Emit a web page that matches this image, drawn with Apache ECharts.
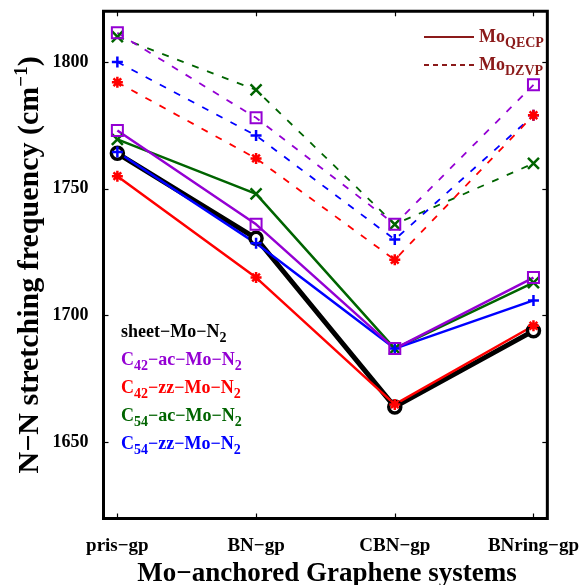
<!DOCTYPE html>
<html>
<head>
<meta charset="utf-8">
<script src="https://cdn.jsdelivr.net/npm/echarts@6/dist/echarts.min.js"></script>
<style>
html,body{margin:0;padding:0;background:#fff;}
#chart{width:582px;height:585px;}
</style>
</head>
<body>
<div id="chart"></div>
<script>
// ---- data ----
const categories = ['pris\u2212gp', 'BN\u2212gp', 'CBN\u2212gp', 'BNring\u2212gp'];
const xIndex = [0, 1, 2, 3];
const yTicks = [1650, 1700, 1750, 1800];

// Mo QECP (solid)
const sheetQECP = [1764, 1730.5, 1664, 1694];
const c42acQECP = [1773, 1736, 1687, 1715];
const c42zzQECP = [1755, 1715, 1665, 1696];
const c54acQECP = [1769.5, 1748, 1687, 1713];
const c54zzQECP = [1764.5, 1728.5, 1687, 1706];

// Mo DZVP (dashed)
const c42acDZVP = [1811.5, 1778, 1736, 1791];
const c42zzDZVP = [1792, 1762, 1722, 1779];
const c54acDZVP = [1810, 1789, 1736, 1760];
const c54zzDZVP = [1800, 1771, 1730, 1779];

const BLACK = '#000000', PURPLE = '#9400d3', RED = '#ff0000', GREEN = '#006400', BLUE = '#0000ff', DARKRED = '#8b1a1a';
const FONT = 'Liberation Serif';

const SYM_X = 'path://M0,0L10,10M10,0L0,10';
const SYM_PLUS = 'path://M5,0L5,10M0,5L10,5';
const SYM_STAR = 'path://M5,0L5,10M0,5L10,5M1.5,1.5L8.5,8.5M8.5,1.5L1.5,8.5';

function pts(vals) { return vals.map((v, i) => [xIndex[i], v]); }

function mk(name, vals, color, symbol, opts) {
  return {
    name: name,
    type: 'line',
    data: pts(vals),
    symbol: symbol,
    symbolSize: opts.size || 11,
    lineStyle: { color: color, width: opts.width || 2.5, type: opts.dashed ? [7, 9] : 'solid' },
    itemStyle: opts.itemStyle || { color: 'none', borderColor: color, borderWidth: 2.5 },
    emphasis: { disabled: true },
    animation: false
  };
}

const series = [
  mk('c54acDZVP', c54acDZVP, GREEN, SYM_X, { dashed: true, width: 1.8 }),
  mk('c54zzDZVP', c54zzDZVP, BLUE, SYM_PLUS, { dashed: true, width: 1.8 }),
  mk('c42zzDZVP', c42zzDZVP, RED, SYM_STAR, { dashed: true, width: 1.8 }),
  mk('c42acDZVP', c42acDZVP, PURPLE, 'rect', { dashed: true, width: 1.8, size: 11, itemStyle: { color: 'none', borderColor: PURPLE, borderWidth: 2 } }),
  mk('sheetQECP', sheetQECP, BLACK, 'circle', { width: 5, size: 12, itemStyle: { color: '#ffffff', borderColor: BLACK, borderWidth: 3.5 } }),
  mk('c54acQECP', c54acQECP, GREEN, SYM_X, {}),
  mk('c54zzQECP', c54zzQECP, BLUE, SYM_PLUS, {}),
  mk('c42zzQECP', c42zzQECP, RED, SYM_STAR, {}),
  mk('c42acQECP', c42acQECP, PURPLE, 'rect', { size: 11, itemStyle: { color: 'none', borderColor: PURPLE, borderWidth: 2 } }),
  { name: 'QECP', type: 'line', data: [], symbol: 'rect', lineStyle: { color: DARKRED, width: 1.8, type: 'solid' }, itemStyle: { color: 'transparent', borderColor: 'transparent', borderWidth: 0 } },
  { name: 'DZVP', type: 'line', data: [], symbol: 'rect', lineStyle: { color: DARKRED, width: 1.5, type: [5, 4] }, itemStyle: { color: 'transparent', borderColor: 'transparent', borderWidth: 0 } }
];

const legendBlock = [
  { parts: [['m', 'sheet\u2212Mo\u2212N'], ['s', '2']], color: BLACK },
  { parts: [['m', 'C'], ['s', '42'], ['m', '\u2212ac\u2212Mo\u2212N'], ['s', '2']], color: PURPLE },
  { parts: [['m', 'C'], ['s', '42'], ['m', '\u2212zz\u2212Mo\u2212N'], ['s', '2']], color: RED },
  { parts: [['m', 'C'], ['s', '54'], ['m', '\u2212ac\u2212Mo\u2212N'], ['s', '2']], color: GREEN },
  { parts: [['m', 'C'], ['s', '54'], ['m', '\u2212zz\u2212Mo\u2212N'], ['s', '2']], color: BLUE }
];

const graphics = legendBlock.map((it, i) => ({
  type: 'text',
  left: 121,
  top: 323 + i * 28,
  z: 10,
  style: {
    text: it.parts.map(p => '{' + p[0] + '|' + p[1] + '}').join(''),
    rich: {
      m: { fontFamily: FONT, fontWeight: 'bold', fontSize: 18, fill: it.color },
      s: { fontFamily: FONT, fontWeight: 'bold', fontSize: 14, fill: it.color, padding: [12, 0, 0, 0] }
    }
  }
}));

graphics.push({
  type: 'text',
  z: 10,
  style: { x: 327, y: 574, text: 'Mo\u2212anchored Graphene systems', align: 'center', verticalAlign: 'middle', fontFamily: FONT, fontWeight: 'bold', fontSize: 27, fill: BLACK }
});

const chart = echarts.init(document.getElementById('chart'), null, { renderer: 'canvas' });
chart.setOption({
  backgroundColor: '#ffffff',
  animation: false,
  grid: { left: 103.5, right: 34.5, top: 11.3, bottom: 66.5, show: true, borderColor: '#000', borderWidth: 3, containLabel: false },
  legend: {
    data: ['QECP', 'DZVP'],
    orient: 'vertical',
    left: 418,
    top: 23,
    itemWidth: 50,
    itemHeight: 12,
    itemGap: 6,
    selectedMode: false,
    itemStyle: { color: 'transparent', borderColor: 'transparent', borderWidth: 0 },
    formatter: n => '{m|Mo}{s|' + n + '}',
    textStyle: {
      rich: {
        m: { fontFamily: FONT, fontWeight: 'bold', fontSize: 18, color: DARKRED },
        s: { fontFamily: FONT, fontWeight: 'bold', fontSize: 14, color: DARKRED, padding: [12, 0, 0, 0] }
      }
    }
  },
  xAxis: [
    {
      type: 'value', min: -0.1, max: 3.1, position: 'bottom',
      axisLine: { show: false, onZero: false }, splitLine: { show: false },
      axisTick: { show: true, inside: true, length: 5, customValues: xIndex, lineStyle: { color: '#000', width: 1.2 } },
      axisLabel: { customValues: xIndex, formatter: v => categories[Math.round(v)], fontFamily: FONT, fontWeight: 'bold', fontSize: 19, color: '#000', margin: 18 }
    },
    {
      type: 'value', min: -0.1, max: 3.1, position: 'top',
      axisLine: { show: false, onZero: false }, splitLine: { show: false },
      axisTick: { show: true, inside: true, length: 5, customValues: xIndex, lineStyle: { color: '#000', width: 1.2 } },
      axisLabel: { show: false }
    }
  ],
  yAxis: [
    {
      type: 'value', min: 1620, max: 1820, position: 'left',
      axisLine: { show: false, onZero: false }, splitLine: { show: false },
      axisTick: { show: true, inside: true, length: 5, customValues: yTicks, lineStyle: { color: '#000', width: 1.2 } },
      axisLabel: { customValues: yTicks, formatter: v => String(v), fontFamily: FONT, fontWeight: 'bold', fontSize: 18, color: '#000', margin: 15 },
      name: 'N\u2212N stretching frequency (cm{sup|\u22121})',
      nameLocation: 'middle',
      nameRotate: 90,
      nameGap: 55,
      nameMoveOverlap: false,
      nameTextStyle: {
        fontFamily: FONT, fontWeight: 'bold', fontSize: 30, color: '#000',
        rich: { sup: { fontFamily: FONT, fontWeight: 'bold', fontSize: 19, color: '#000', padding: [0, 0, 17, 0] } }
      }
    },
    {
      type: 'value', min: 1620, max: 1820, position: 'right',
      axisLine: { show: false, onZero: false }, splitLine: { show: false },
      axisTick: { show: true, inside: true, length: 5, customValues: yTicks, lineStyle: { color: '#000', width: 1.2 } },
      axisLabel: { show: false }
    }
  ],
  series: series,
  graphic: graphics
});
</script>
</body>
</html>
